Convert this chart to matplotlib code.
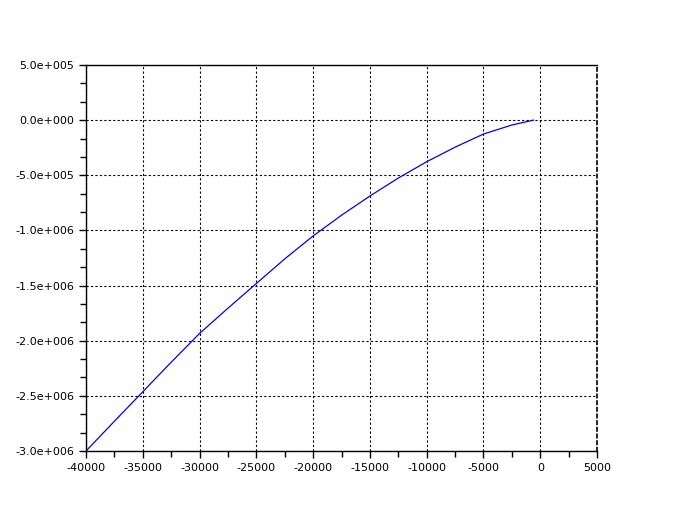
import matplotlib.pyplot as plt
from matplotlib.ticker import MultipleLocator, FuncFormatter

# values
x = [-40000, -37500, -35000, -32500, -30000, -27500, -25000, -22500, -20000,
     -17500, -15000, -12500, -10000, -7500, -5000, -2500, -600]
y = [-3.0e6, -2.73e6, -2.463e6, -2.195e6, -1.934e6, -1.705e6, -1.481e6, -1.258e6,
     -1.05e6, -0.862e6, -0.688e6, -0.525e6, -0.377e6, -0.245e6, -0.126e6, -0.044e6, 0.0]

fig = plt.figure(figsize=(6.8, 5.13), dpi=100)
ax = fig.add_axes([0.1265, 0.1209, 0.7515, 0.7524])

ax.plot(x, y, color='#0000ff', linewidth=0.9)

ax.set_xlim(-40000, 5000)
ax.set_ylim(-3e6, 5e5)

ax.xaxis.set_major_locator(MultipleLocator(5000))
ax.xaxis.set_minor_locator(MultipleLocator(2500))
ax.yaxis.set_major_locator(MultipleLocator(5e5))
ax.yaxis.set_minor_locator(MultipleLocator(5e5 / 3))


def sci(v, pos):
    s = "%.1e" % v
    mant, exp = s.split("e")
    sign = exp[0]
    return "%se%s%03d" % (mant, sign, abs(int(exp)))


ax.yaxis.set_major_formatter(FuncFormatter(sci))
ax.xaxis.set_major_formatter(FuncFormatter(lambda v, p: "%d" % v))

ax.tick_params(which='major', direction='out', length=5, width=1, labelsize=8,
               top=False, right=False)
ax.tick_params(which='minor', direction='out', length=4, width=1,
               top=False, right=False)

ax.grid(True, which='major', color='black', linestyle=(0, (2, 2)), linewidth=0.8)
ax.spines['right'].set_linestyle((0, (2, 2)))
ax.spines['right'].set_linewidth(1.2)
for s in ['left', 'bottom', 'top']:
    ax.spines[s].set_linewidth(1)

fig.savefig("out.png", dpi=100)
